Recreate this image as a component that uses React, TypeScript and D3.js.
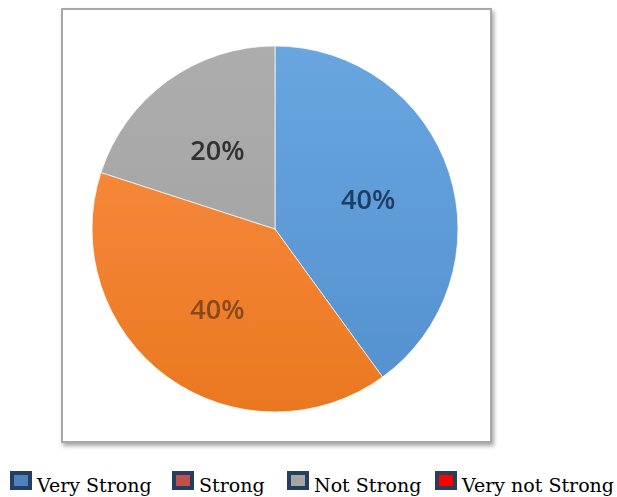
import React from "react";
import * as d3 from "d3";

const categories = ["Very Strong", "Strong", "Not Strong", "Very not Strong"];
const values = [40, 40, 20, 0];
const sliceColors = ["#5D9CD8", "#F07F32", "#A9A9A9", "#E00000"];
const labelColors = ["#1E3C66", "#8A4A1E", "#303030", "#000000"];
const legendFills = ["#4F81BD", "#C0504D", "#A5A5A5", "#FF0000"];

const W = 617;
const H = 497;

export default function App() {
  const cx = 275;
  const cy = 229;
  const r = 183;

  const data = categories.map((c, i) => ({ c, v: values[i], i }));
  const pie = d3.pie<any>().sort(null).value((d) => d.v);
  const arcs = pie(data);
  const arc = d3.arc<any>().innerRadius(0).outerRadius(r);
  const labelArc = d3.arc<any>().innerRadius(98).outerRadius(98);

  const legendSquareX = [10, 172, 287, 435];
  const legendY = 471;

  return (
    <svg
      width={W}
      height={H}
      style={{ position: "absolute", left: 0, top: 0, display: "block" }}
    >
      <defs>
        <filter id="shadow" x="-5%" y="-5%" width="115%" height="115%">
          <feDropShadow dx="2" dy="3" stdDeviation="2" floodColor="#000" floodOpacity="0.35" />
        </filter>
        <filter id="soft">
          <feGaussianBlur stdDeviation="0.6" />
        </filter>
        <linearGradient id="g0" x1="0" y1="0" x2="0" y2="1">
          <stop offset="0" stopColor="#68A6E0" />
          <stop offset="1" stopColor="#5592CF" />
        </linearGradient>
        <linearGradient id="g1" x1="0" y1="0" x2="0" y2="1">
          <stop offset="0" stopColor="#F6873A" />
          <stop offset="1" stopColor="#E9781F" />
        </linearGradient>
        <linearGradient id="g2" x1="0" y1="0" x2="0" y2="1">
          <stop offset="0" stopColor="#ADADAD" />
          <stop offset="1" stopColor="#A6A6A6" />
        </linearGradient>
      </defs>
      <rect x={0} y={0} width={W} height={H} fill="#fff" />
      <rect
        x={62}
        y={9}
        width={429}
        height={433}
        fill="#fff"
        stroke="#A8A8A8"
        strokeWidth={2}
        filter="url(#shadow)"
      />
      <g transform={`translate(${cx},${cy})`} filter="url(#soft)">
        {arcs.map((a, i) =>
          a.data.v > 0 ? (
            <path
              key={i}
              d={arc(a) as string}
              fill={i < 3 ? `url(#g${i})` : sliceColors[i]}
              stroke="#ffffff"
              strokeWidth={1}
              strokeOpacity={0.7}
            />
          ) : null
        )}
        {arcs.map((a, i) => {
          if (a.data.v <= 0) return null;
          const [x, y] = labelArc.centroid(a);
          return (
            <text
              key={"t" + i}
              x={x}
              y={y}
              textAnchor="middle"
              dominantBaseline="central"
              fontFamily="'Open Sans', sans-serif"
              fontWeight={600}
              fontSize={27}
              fill={labelColors[i]}
            >
              {a.data.v + "%"}
            </text>
          );
        })}
      </g>
      {categories.map((c, i) => (
        <g key={"l" + i} transform={`translate(${legendSquareX[i]},${legendY})`}>
          <rect x={0} y={0} width={22} height={19} fill="#243F60" />
          <rect x={4} y={4} width={14} height={11} fill={legendFills[i]} />
          <text
            x={27}
            y={21}
            fontFamily="'DejaVu Serif', serif"
            fontSize={19}
            fill="#000"
          >
            {c}
          </text>
        </g>
      ))}
    </svg>
  );
}
